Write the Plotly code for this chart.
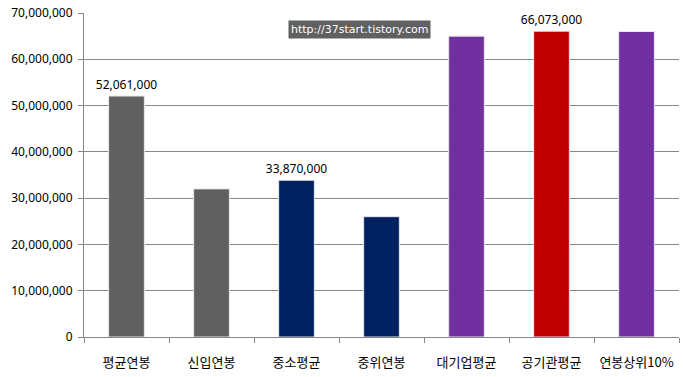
import plotly.graph_objects as go

categories = ["평균연봉", "신입연봉", "중소평균", "중위연봉", "대기업평균", "공기관평균", "연봉상위10%"]
values = [52061000, 32000000, 33870000, 26000000, 65000000, 66073000, 66000000]
colors = ["#606060", "#606060", "#002060", "#002060", "#7030A0", "#C00000", "#7030A0"]
labels = ["52,061,000", "", "33,870,000", "", "", "66,073,000", ""]
y_ticks = [0, 10000000, 20000000, 30000000, 40000000, 50000000, 60000000, 70000000]
watermark = "http://37start.tistory.com"

font = "Noto Sans CJK KR, Noto Sans, sans-serif"
numfont = "Noto Sans, sans-serif"

fig = go.Figure()
fig.add_trace(go.Bar(
    x=categories, y=values,
    marker=dict(color=colors, line=dict(color="#E8E8E8", width=1)),
    width=0.42,
    text=labels, textposition="outside", constraintext="none",
    textfont=dict(family=numfont, size=12, color="#000000"),
    cliponaxis=False,
    hoverinfo="x+y",
))

fig.update_layout(
    width=684, height=377,
    margin=dict(l=84, r=5, t=13, b=40, autoexpand=False),
    paper_bgcolor="white", plot_bgcolor="white",
    showlegend=False,
    bargap=0.58,
    font=dict(family=font, size=12, color="#000000"),
    xaxis=dict(
        automargin=False,
        showline=True, linecolor="#868686", linewidth=1,
        ticks="outside", tickson="boundaries", ticklen=5, tickcolor="#868686",
        tickfont=dict(family=font, size=13, color="#000000"),
        ticklabelstandoff=13,
        showgrid=False,
    ),
    yaxis=dict(
        automargin=False,
        range=[0, 70000000], tickvals=y_ticks, tickformat=",",
        showline=True, linecolor="#868686", linewidth=1,
        ticks="outside", ticklen=5, tickcolor="#868686",
        showgrid=True, gridcolor="#868686", gridwidth=1,
        zeroline=False,
        ticklabelstandoff=3,
        tickfont=dict(family=numfont, size=12, color="#000000"),
    ),
)
plot_w = 684 - 84 - 5
plot_h = 377 - 13 - 40
fig.add_annotation(
    x=(359 - 84) / plot_w, y=(337 - 29) / plot_h, xref="paper", yref="paper",
    xanchor="center", yanchor="middle", showarrow=False,
    text=watermark,
    font=dict(family="DejaVu Sans, sans-serif", size=11, color="white"),
    bgcolor="#606060", borderpad=2,
)

fig.write_html("out.html", config={"displayModeBar": False},
               post_script="document.body.style.margin='0';")
